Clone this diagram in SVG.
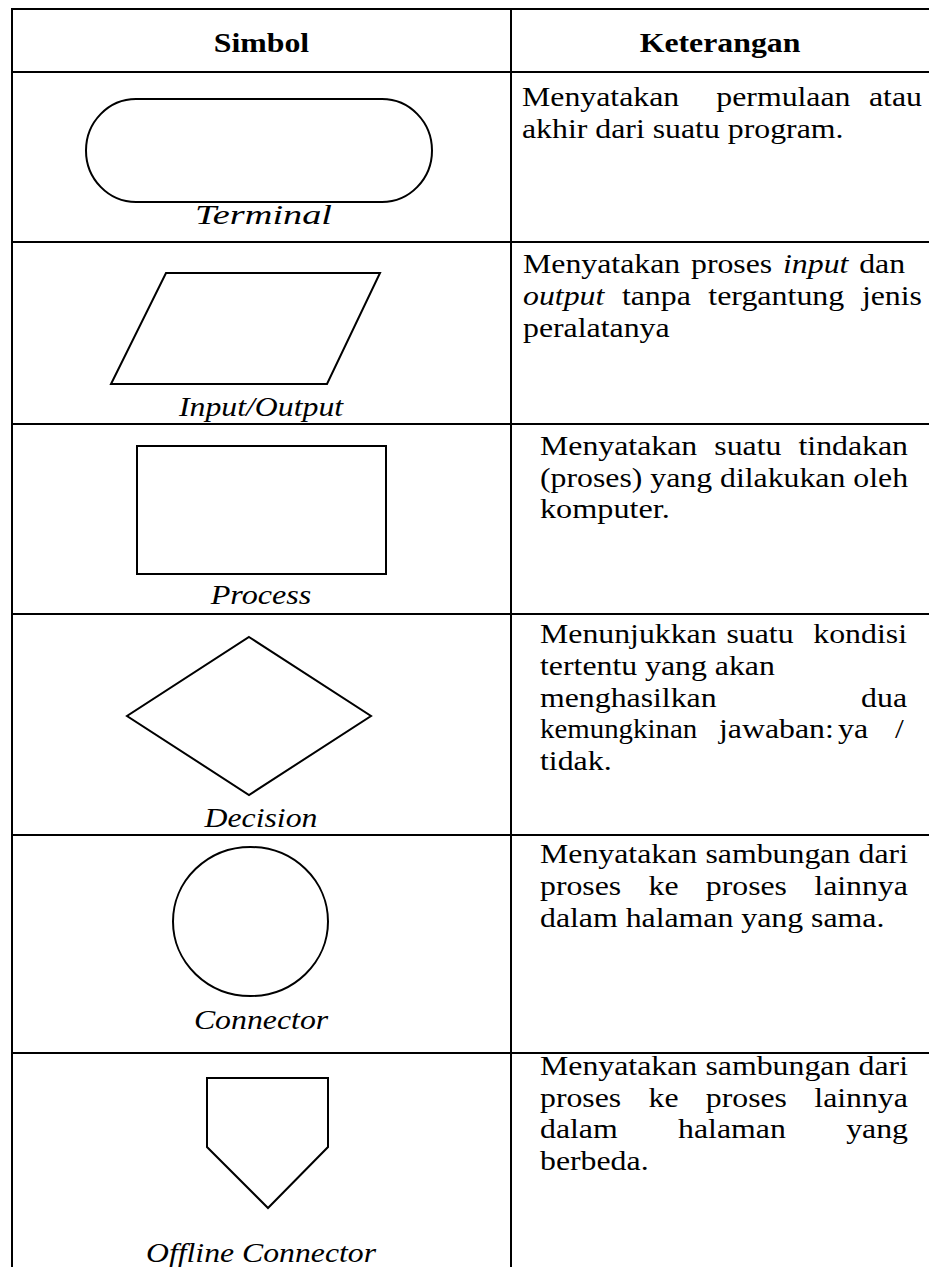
<svg xmlns="http://www.w3.org/2000/svg" width="929" height="1267" viewBox="0 0 929 1267">
<style>
.t{font-family:"Liberation Serif","Times New Roman",serif;font-size:27px;fill:#000}
.i{font-style:italic}
.b{font-weight:bold}
.shape{fill:none;stroke:#000;stroke-width:2}
.grid{stroke:#000;stroke-width:2;fill:none}
</style>
<rect width="929" height="1267" fill="#fff"/>
<g id="grid">
<line class="grid" x1="12" y1="8" x2="12" y2="1267"/>
<line class="grid" x1="511" y1="8" x2="511" y2="1267"/>
<line class="grid" x1="11" y1="9" x2="929" y2="9"/>
<line class="grid" x1="11" y1="72" x2="929" y2="72"/>
<line class="grid" x1="11" y1="242" x2="929" y2="242"/>
<line class="grid" x1="11" y1="424" x2="929" y2="424"/>
<line class="grid" x1="11" y1="614" x2="929" y2="614"/>
<line class="grid" x1="11" y1="835" x2="929" y2="835"/>
<line class="grid" x1="11" y1="1053" x2="929" y2="1053"/>
</g>
<g id="header">
<text class="t b" x="213.8" y="52" textLength="95.4" lengthAdjust="spacingAndGlyphs">Simbol</text>
<text class="t b" x="639.7" y="52" textLength="160.7" lengthAdjust="spacingAndGlyphs">Keterangan</text>
</g>
<g id="terminal">
<rect class="shape" x="86" y="99" width="346" height="103" rx="50" ry="51.5"/>
<text class="t i" x="195" y="224" textLength="137" lengthAdjust="spacingAndGlyphs">Terminal</text>
<text class="t" x="522" y="106" textLength="157.2" lengthAdjust="spacingAndGlyphs">Menyatakan</text>
<text class="t" x="716.3" y="106" textLength="134.2" lengthAdjust="spacingAndGlyphs">permulaan</text>
<text class="t" x="869" y="106" textLength="53" lengthAdjust="spacingAndGlyphs">atau</text>
<text class="t" x="522" y="138" textLength="321.5" lengthAdjust="spacingAndGlyphs">akhir dari suatu program.</text>
</g>
<g id="input-output">
<polygon class="shape" points="166,273 380,273 327,384 111,384"/>
<text class="t i" x="178.9" y="416" textLength="164.3" lengthAdjust="spacingAndGlyphs">Input/Output</text>
<text class="t" x="523" y="273" textLength="157.2" lengthAdjust="spacingAndGlyphs">Menyatakan</text>
<text class="t" x="691" y="273" textLength="81.2" lengthAdjust="spacingAndGlyphs">proses</text>
<text class="t i" x="783" y="273" textLength="65.4" lengthAdjust="spacingAndGlyphs">input</text>
<text class="t" x="859.2" y="273" textLength="45.9" lengthAdjust="spacingAndGlyphs">dan</text>
<text class="t i" x="523" y="305" textLength="81.3" lengthAdjust="spacingAndGlyphs">output</text>
<text class="t" x="621.9" y="305" textLength="68.9" lengthAdjust="spacingAndGlyphs">tanpa</text>
<text class="t" x="708.3" y="305" textLength="136" lengthAdjust="spacingAndGlyphs">tergantung</text>
<text class="t" x="861.9" y="305" textLength="60.1" lengthAdjust="spacingAndGlyphs">jenis</text>
<text class="t" x="523" y="337" textLength="146.6" lengthAdjust="spacingAndGlyphs">peralatanya</text>
</g>
<g id="process">
<rect class="shape" x="137" y="446" width="249" height="128"/>
<text class="t i" x="210.7" y="604" textLength="100.7" lengthAdjust="spacingAndGlyphs">Process</text>
<text class="t" x="540" y="455" textLength="157.2" lengthAdjust="spacingAndGlyphs">Menyatakan</text>
<text class="t" x="714.3" y="455" textLength="67.1" lengthAdjust="spacingAndGlyphs">suatu</text>
<text class="t" x="798.5" y="455" textLength="109.5" lengthAdjust="spacingAndGlyphs">tindakan</text>
<text class="t" x="540" y="487" textLength="102.4" lengthAdjust="spacingAndGlyphs">(proses)</text>
<text class="t" x="650.3" y="487" textLength="61.8" lengthAdjust="spacingAndGlyphs">yang</text>
<text class="t" x="720" y="487" textLength="125.4" lengthAdjust="spacingAndGlyphs">dilakukan</text>
<text class="t" x="853.3" y="487" textLength="54.8" lengthAdjust="spacingAndGlyphs">oleh</text>
<text class="t" x="540" y="518" textLength="129.8" lengthAdjust="spacingAndGlyphs">komputer.</text>
</g>
<g id="decision">
<polygon class="shape" points="249,637 371,716 249,795 127,716"/>
<text class="t i" x="204.5" y="827" textLength="113" lengthAdjust="spacingAndGlyphs">Decision</text>
<text class="t" x="540" y="643" textLength="176.6" lengthAdjust="spacingAndGlyphs">Menunjukkan</text>
<text class="t" x="726.5" y="643" textLength="67.1" lengthAdjust="spacingAndGlyphs">suatu</text>
<text class="t" x="813.3" y="643" textLength="93.7" lengthAdjust="spacingAndGlyphs">kondisi</text>
<text class="t" x="540" y="675" textLength="234.9" lengthAdjust="spacingAndGlyphs">tertentu yang akan</text>
<text class="t" x="540" y="707" textLength="176.6" lengthAdjust="spacingAndGlyphs">menghasilkan</text>
<text class="t" x="861.1" y="707" textLength="45.9" lengthAdjust="spacingAndGlyphs">dua</text>
<text class="t" x="540" y="738" textLength="157.2" lengthAdjust="spacingAndGlyphs">kemungkinan</text>
<text class="t" x="719" y="738" textLength="114.8" lengthAdjust="spacingAndGlyphs">jawaban:</text>
<text class="t" x="838" y="738" textLength="30" lengthAdjust="spacingAndGlyphs">ya</text>
<text class="t" x="895" y="738" textLength="8.8" lengthAdjust="spacingAndGlyphs">/</text>
<text class="t" x="540" y="770" textLength="71.6" lengthAdjust="spacingAndGlyphs">tidak.</text>
</g>
<g id="connector">
<ellipse class="shape" cx="250.5" cy="921.5" rx="77.5" ry="74.5"/>
<text class="t i" x="193.9" y="1029" textLength="134.3" lengthAdjust="spacingAndGlyphs">Connector</text>
<text class="t" x="540" y="863" textLength="157.2" lengthAdjust="spacingAndGlyphs">Menyatakan</text>
<text class="t" x="705.5" y="863" textLength="144.8" lengthAdjust="spacingAndGlyphs">sambungan</text>
<text class="t" x="858.6" y="863" textLength="49.4" lengthAdjust="spacingAndGlyphs">dari</text>
<text class="t" x="540" y="895" textLength="81.2" lengthAdjust="spacingAndGlyphs">proses</text>
<text class="t" x="648.5" y="895" textLength="30" lengthAdjust="spacingAndGlyphs">ke</text>
<text class="t" x="705.8" y="895" textLength="81.2" lengthAdjust="spacingAndGlyphs">proses</text>
<text class="t" x="814.3" y="895" textLength="93.6" lengthAdjust="spacingAndGlyphs">lainnya</text>
<text class="t" x="540" y="927" textLength="344.4" lengthAdjust="spacingAndGlyphs">dalam halaman yang sama.</text>
</g>
<g id="offline-connector">
<polygon class="shape" points="207,1078 328,1078 328,1147 268,1208 207,1147"/>
<text class="t i" x="146" y="1262" textLength="230" lengthAdjust="spacingAndGlyphs">Offline Connector</text>
<text class="t" x="540" y="1075" textLength="157.2" lengthAdjust="spacingAndGlyphs">Menyatakan</text>
<text class="t" x="705.5" y="1075" textLength="144.8" lengthAdjust="spacingAndGlyphs">sambungan</text>
<text class="t" x="858.6" y="1075" textLength="49.4" lengthAdjust="spacingAndGlyphs">dari</text>
<text class="t" x="540" y="1107" textLength="81.2" lengthAdjust="spacingAndGlyphs">proses</text>
<text class="t" x="648.5" y="1107" textLength="30" lengthAdjust="spacingAndGlyphs">ke</text>
<text class="t" x="705.8" y="1107" textLength="81.2" lengthAdjust="spacingAndGlyphs">proses</text>
<text class="t" x="814.3" y="1107" textLength="93.6" lengthAdjust="spacingAndGlyphs">lainnya</text>
<text class="t" x="540" y="1138" textLength="77.7" lengthAdjust="spacingAndGlyphs">dalam</text>
<text class="t" x="678.1" y="1138" textLength="107.7" lengthAdjust="spacingAndGlyphs">halaman</text>
<text class="t" x="846.2" y="1138" textLength="61.8" lengthAdjust="spacingAndGlyphs">yang</text>
<text class="t" x="540" y="1170" textLength="108.6" lengthAdjust="spacingAndGlyphs">berbeda.</text>
</g>
</svg>
